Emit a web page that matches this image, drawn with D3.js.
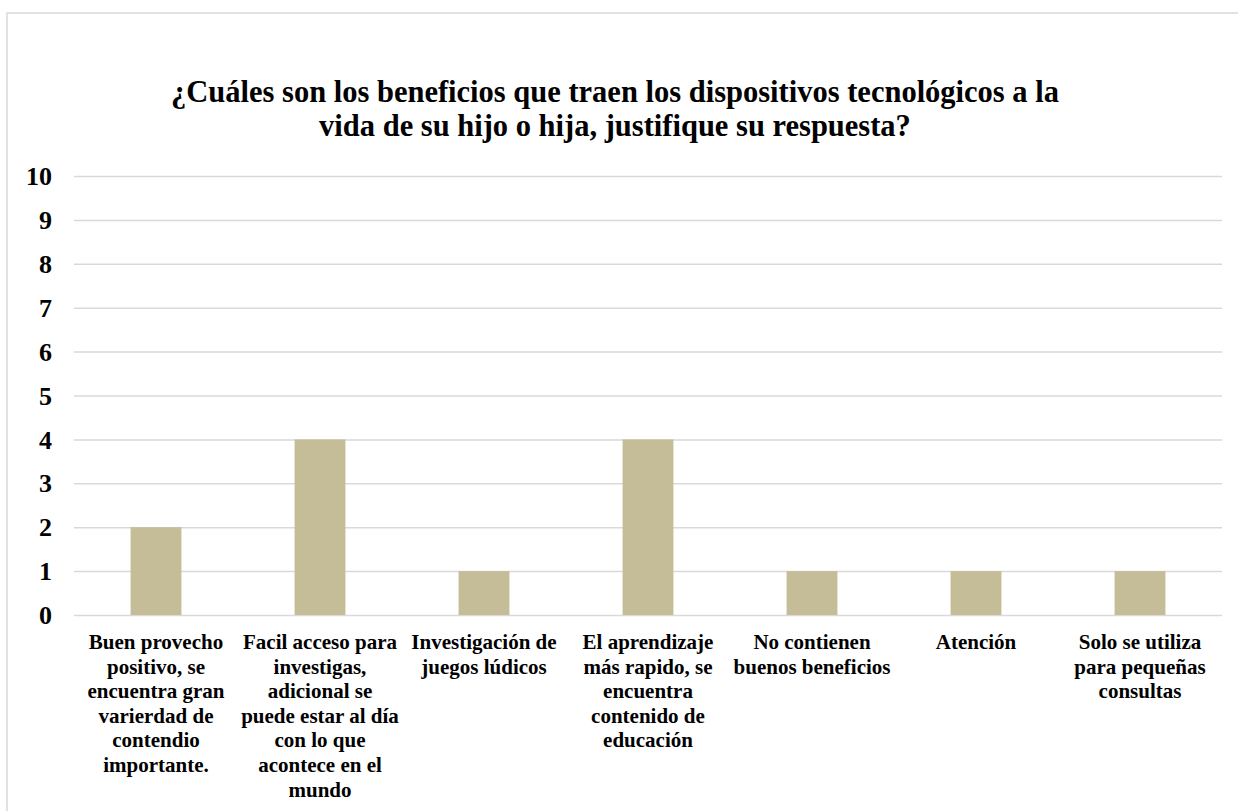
<!DOCTYPE html>
<html>
<head>
<meta charset="utf-8">
<title>Beneficios</title>
<style>
body { margin: 0; background: #fff; }
text { font-family: "Liberation Serif", "Times New Roman", serif; font-weight: bold; fill: #000; }
.grid line { stroke: #d9d9d9; stroke-width: 1.5px; }
.grid path { display: none; }
</style>
</head>
<body>
<script src="https://cdn.jsdelivr.net/npm/d3@7/dist/d3.min.js"></script>
<script>

// data
var categories = [
  ["Buen provecho", "positivo, se", "encuentra gran", "varierdad de", "contendio", "importante."],
  ["Facil acceso para", "investigas,", "adicional se", "puede estar al día", "con lo que", "acontece en el", "mundo"],
  ["Investigación de", "juegos lúdicos"],
  ["El aprendizaje", "más rapido, se", "encuentra", "contenido de", "educación"],
  ["No contienen", "buenos beneficios"],
  ["Atención"],
  ["Solo se utiliza", "para pequeñas", "consultas"]
];
var values = [2, 4, 1, 4, 1, 1, 1];
var yTicks = [0, 1, 2, 3, 4, 5, 6, 7, 8, 9, 10];
var titleLines = [
  "¿Cuáles son los beneficios que traen los dispositivos tecnológicos a la",
  "vida de su hijo o hija, justifique su respuesta?"
];

var width = 1238, height = 811;
var plotLeft = 74, plotRight = 1222, plotTop = 176, plotBottom = 615;

var svg = d3.select("body").append("svg")
    .attr("width", width)
    .attr("height", height);

// chart border
svg.append("rect")
    .attr("x", 7).attr("y", 13)
    .attr("width", width + 10).attr("height", height + 10)
    .attr("fill", "#fff")
    .attr("stroke", "#d9d9d9")
    .attr("stroke-width", 1.5);

var x = d3.scaleBand()
    .domain(d3.range(categories.length))
    .range([plotLeft, plotRight])
    .paddingInner(0.69)
    .paddingOuter(0.345);

var y = d3.scaleLinear()
    .domain([0, 10])
    .range([plotBottom, plotTop]);

// gridlines
svg.append("g")
    .attr("class", "grid")
    .attr("transform", "translate(" + plotLeft + ",0)")
    .call(d3.axisLeft(y).tickValues(yTicks).tickSize(-(plotRight - plotLeft)).tickFormat(""));

// y labels
svg.append("g")
    .selectAll("text")
    .data(yTicks)
    .enter().append("text")
    .attr("x", 52)
    .attr("y", function(d) { return y(d); })
    .attr("dy", "0.35em")
    .attr("text-anchor", "end")
    .style("font-size", "26px")
    .text(function(d) { return d; });

// bars
svg.append("g")
    .selectAll("rect")
    .data(values)
    .enter().append("rect")
    .attr("x", function(d, i) { return x(i); })
    .attr("y", function(d) { return y(d); })
    .attr("width", x.bandwidth())
    .attr("height", function(d) { return y(0) - y(d); })
    .attr("fill", "#c4bd97");

// category labels
svg.append("g")
    .selectAll("text")
    .data(categories)
    .enter().append("text")
    .attr("text-anchor", "middle")
    .style("font-size", "21px")
    .each(function(lines, i) {
      var cx = x(i) + x.bandwidth() / 2;
      d3.select(this).selectAll("tspan")
        .data(lines)
        .enter().append("tspan")
        .attr("x", cx)
        .attr("y", function(d, j) { return 649 + j * 24.6; })
        .text(function(d) { return d; });
    });

// title
svg.append("text")
    .attr("text-anchor", "middle")
    .style("font-size", "30.5px")
    .selectAll("tspan")
    .data(titleLines)
    .enter().append("tspan")
    .attr("x", 615)
    .attr("y", function(d, i) { return 102 + i * 34; })
    .text(function(d) { return d; });

</script>
</body>
</html>
